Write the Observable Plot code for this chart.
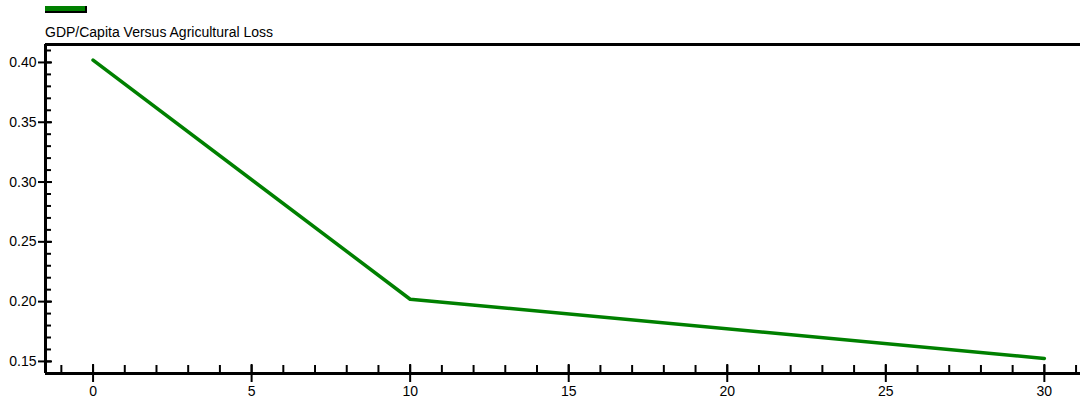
<!DOCTYPE html>
<html><head><meta charset="utf-8">
<script src="https://cdn.jsdelivr.net/npm/d3@7"></script>
<script src="https://cdn.jsdelivr.net/npm/@observablehq/plot@0.6"></script>
<style>
body{margin:0;background:#fff;font-family:"Liberation Sans",Arial,sans-serif}
#wrap{position:relative;width:1081px;height:404px}
#title{position:absolute;left:45px;top:24px;font-size:14px;color:#000}
#swatch{position:absolute;left:45px;top:6px;width:40px;height:5px;background:#008000;border:1px solid #000;border-width:0 2px 2px 0}
#chart{position:absolute;left:0;top:0}
</style></head><body>
<div id="wrap"><div id="chart"></div><div id="title">GDP/Capita Versus Agricultural Loss</div><div id="swatch"></div></div>
<script>
const loss = [0, 10, 30];
const gdpRatio = [0.402, 0.202, 0.1525];
const xTicks = [0, 5, 10, 15, 20, 25, 30];
const yTicks = [0.15, 0.20, 0.25, 0.30, 0.35, 0.40];
const xMinor = d3.range(-1, 32, 1);
const yMinor = d3.range(14, 42, 1).map(d => d / 100);

const data = loss.map((x, i) => ({x, y: gdpRatio[i]}));
const x0 = -1.5, x1 = 31.14, y0 = 0.1399, y1 = 0.415;
const py = 0.05 / 59.8, px = 5 / 158.5;

const chart = Plot.plot({
  width: 1081, height: 404,
  marginTop: 44, marginLeft: 45, marginRight: 1, marginBottom: 31,
  style: {fontFamily: "Liberation Sans, Arial, sans-serif", fontSize: "14px", color: "#000", overflow: "visible"},
  x: {domain: [x0, x1]},
  y: {domain: [y0, y1]},
  marks: [
    Plot.axisX(xTicks, {tickSize: 9, tickWidth: 2, strokeWidth: 2, tickPadding: 4, label: null, fontSize: 14}),
    Plot.axisY(yTicks, {tickSize: 7, strokeWidth: 2, tickPadding: 2, label: null, tickFormat: d3.format(".2f"), fontSize: 14}),
    Plot.ruleX(xMinor, {y1: y0, y2: y0 + 8 * py, stroke: "#000", strokeWidth: 2}),
    Plot.ruleX(xTicks, {y1: y0, y2: y0 + 9 * py, stroke: "#000", strokeWidth: 2}),
    Plot.ruleY(yMinor, {x1: x0, x2: x0 + 6 * px, stroke: "#000", strokeWidth: 2}),
    Plot.ruleY(yTicks, {x1: x0, x2: x0 + 7 * px, stroke: "#000", strokeWidth: 2}),
    Plot.ruleY([y0], {stroke: "#000", strokeWidth: 3}),
    Plot.ruleY([y1], {stroke: "#000", strokeWidth: 3}),
    Plot.ruleX([x0], {stroke: "#000", strokeWidth: 3}),
    Plot.line(data, {x: "x", y: "y", stroke: "#008000", strokeWidth: 3.5})
  ]
});
document.getElementById("chart").append(chart);
</script></body></html>
